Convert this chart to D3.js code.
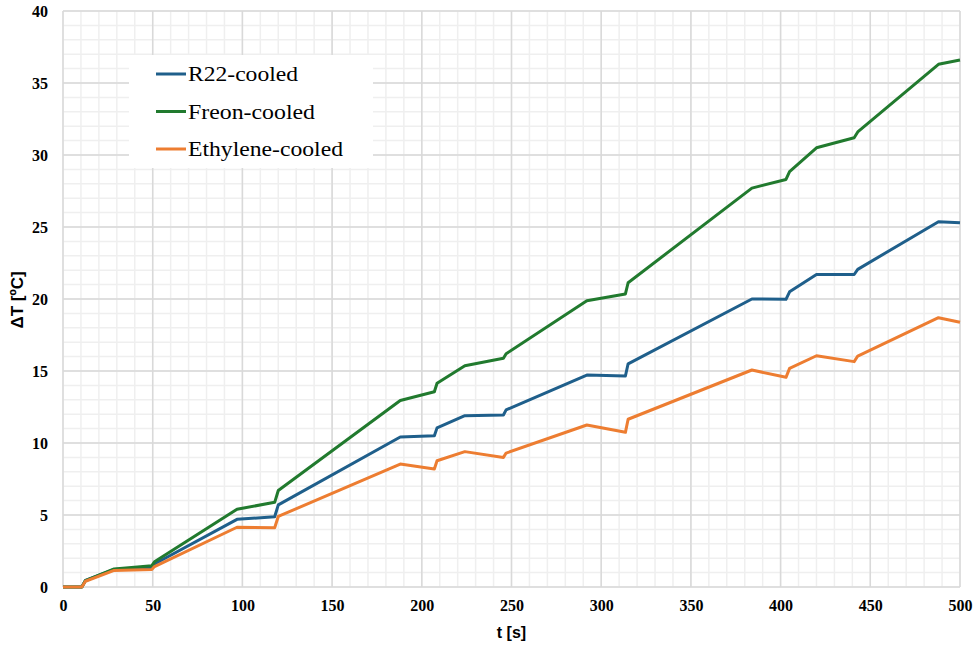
<!DOCTYPE html>
<html>
<head>
<meta charset="utf-8">
<script src="https://cdn.jsdelivr.net/npm/d3@7"></script>
<style>
  body { margin: 0; background: #fff; }
  svg { display: block; }
</style>
</head>
<body>
<div id="chart"></div>
<script>
// time points shared by all three series
var times = [0, 10.5, 12.5, 28.5, 49.5, 51, 97, 118, 120, 188, 207, 208.5, 224, 245.5, 247, 292, 313.5, 315, 384, 403, 405, 420, 441, 443, 488, 500];

var r22 = [0, 0, 0.45, 1.22, 1.35, 1.6, 4.7, 4.88, 5.7, 10.42, 10.5, 11.05, 11.9, 11.95, 12.3, 14.72, 14.65, 15.5, 20.0, 19.98, 20.5, 21.7, 21.7, 22.06, 25.37, 25.3];
var freon = [0, 0, 0.45, 1.25, 1.48, 1.75, 5.4, 5.88, 6.7, 12.95, 13.56, 14.15, 15.37, 15.88, 16.2, 19.88, 20.35, 21.13, 27.7, 28.3, 28.84, 30.5, 31.2, 31.6, 36.3, 36.6];
var ethylene = [0, 0, 0.4, 1.15, 1.22, 1.42, 4.15, 4.12, 4.9, 8.54, 8.2, 8.77, 9.4, 9.0, 9.3, 11.25, 10.74, 11.65, 15.07, 14.56, 15.18, 16.06, 15.65, 16.04, 18.7, 18.38];

var seriesNames = ["R22-cooled", "Freon-cooled", "Ethylene-cooled"];
var seriesColors = ["#1f5f8b", "#217a2e", "#ed7d31"];

var xTicks = [0, 50, 100, 150, 200, 250, 300, 350, 400, 450, 500];
var yTicks = [0, 5, 10, 15, 20, 25, 30, 35, 40];

var serif = "'Liberation Serif', 'Times New Roman', Times, serif";

var width = 975, height = 649;
var margin = {top: 11, right: 15, bottom: 62, left: 63};

var svg = d3.select("#chart").append("svg")
    .attr("width", width)
    .attr("height", height);

var x = d3.scaleLinear().domain([0, 500]).range([margin.left, width - margin.right]);
var y = d3.scaleLinear().domain([0, 40]).range([height - margin.bottom, margin.top]);

// minor grid
svg.append("g").selectAll("line")
    .data(d3.range(0, 501, 10))
  .enter().append("line")
    .attr("x1", function(d) { return x(d); })
    .attr("x2", function(d) { return x(d); })
    .attr("y1", y(0)).attr("y2", y(40))
    .attr("stroke", "#efefef").attr("stroke-width", 1.5);

svg.append("g").selectAll("line")
    .data(d3.range(0, 41, 1))
  .enter().append("line")
    .attr("y1", function(d) { return y(d); })
    .attr("y2", function(d) { return y(d); })
    .attr("x1", x(0)).attr("x2", x(500))
    .attr("stroke", "#efefef").attr("stroke-width", 1.5);

// major grid
svg.append("g").selectAll("line")
    .data(xTicks)
  .enter().append("line")
    .attr("x1", function(d) { return x(d); })
    .attr("x2", function(d) { return x(d); })
    .attr("y1", y(0)).attr("y2", y(40))
    .attr("stroke", "#d9d9d9").attr("stroke-width", 1.5);

svg.append("g").selectAll("line")
    .data(yTicks)
  .enter().append("line")
    .attr("y1", function(d) { return y(d); })
    .attr("y2", function(d) { return y(d); })
    .attr("x1", x(0)).attr("x2", x(500))
    .attr("stroke", "#d9d9d9").attr("stroke-width", 1.5);

// axes (labels only)
var xAxis = svg.append("g")
    .attr("transform", "translate(0," + y(0) + ")")
    .call(d3.axisBottom(x).tickValues(xTicks).tickSize(0).tickPadding(13));
xAxis.select(".domain").remove();

var yAxis = svg.append("g")
    .attr("transform", "translate(" + x(0) + ",0)")
    .call(d3.axisLeft(y).tickValues(yTicks).tickSize(0).tickPadding(15));
yAxis.select(".domain").remove();

svg.selectAll(".tick text")
    .attr("fill", "#000")
    .style("font-family", serif)
    .style("font-weight", "bold")
    .style("font-size", "16px");

// lines
var data = [r22, freon, ethylene];
var line = d3.line()
    .x(function(d, i) { return x(times[i]); })
    .y(function(d) { return y(d); });

svg.append("g").selectAll("path")
    .data(data)
  .enter().append("path")
    .attr("d", line)
    .attr("fill", "none")
    .attr("stroke", function(d, i) { return seriesColors[i]; })
    .attr("stroke-width", 3)
    .attr("stroke-linejoin", "round");

// legend
var legend = svg.append("g");
legend.append("rect")
    .attr("x", 129).attr("y", 55)
    .attr("width", 244).attr("height", 113)
    .attr("fill", "#fff");

var legendWidths = [110, 127, 155];
var item = legend.selectAll("g.item")
    .data(seriesNames)
  .enter().append("g")
    .attr("transform", function(d, i) { return "translate(156," + (74 + i * 37.5) + ")"; });

item.append("line")
    .attr("x1", 0).attr("x2", 30)
    .attr("stroke", function(d, i) { return seriesColors[i]; })
    .attr("stroke-width", 3);

item.append("text")
    .attr("x", 32)
    .attr("dy", "0.35em")
    .attr("textLength", function(d, i) { return legendWidths[i]; })
    .attr("lengthAdjust", "spacingAndGlyphs")
    .style("font-family", serif)
    .style("font-size", "21px")
    .text(function(d) { return d; });

// axis titles
svg.append("text")
    .attr("x", (x(0) + x(500)) / 2)
    .attr("y", 638)
    .attr("text-anchor", "middle")
    .style("font-family", "'Liberation Sans', Arial, sans-serif")
    .style("font-weight", "bold")
    .style("font-size", "16px")
    .text("t [s]");

svg.append("text")
    .attr("transform", "translate(23,300) rotate(-90)")
    .attr("text-anchor", "middle")
    .style("font-family", "'Liberation Sans', Arial, sans-serif")
    .style("font-weight", "bold")
    .style("font-size", "17px")
    .text("ΔT [ºC]");
</script>
</body>
</html>
